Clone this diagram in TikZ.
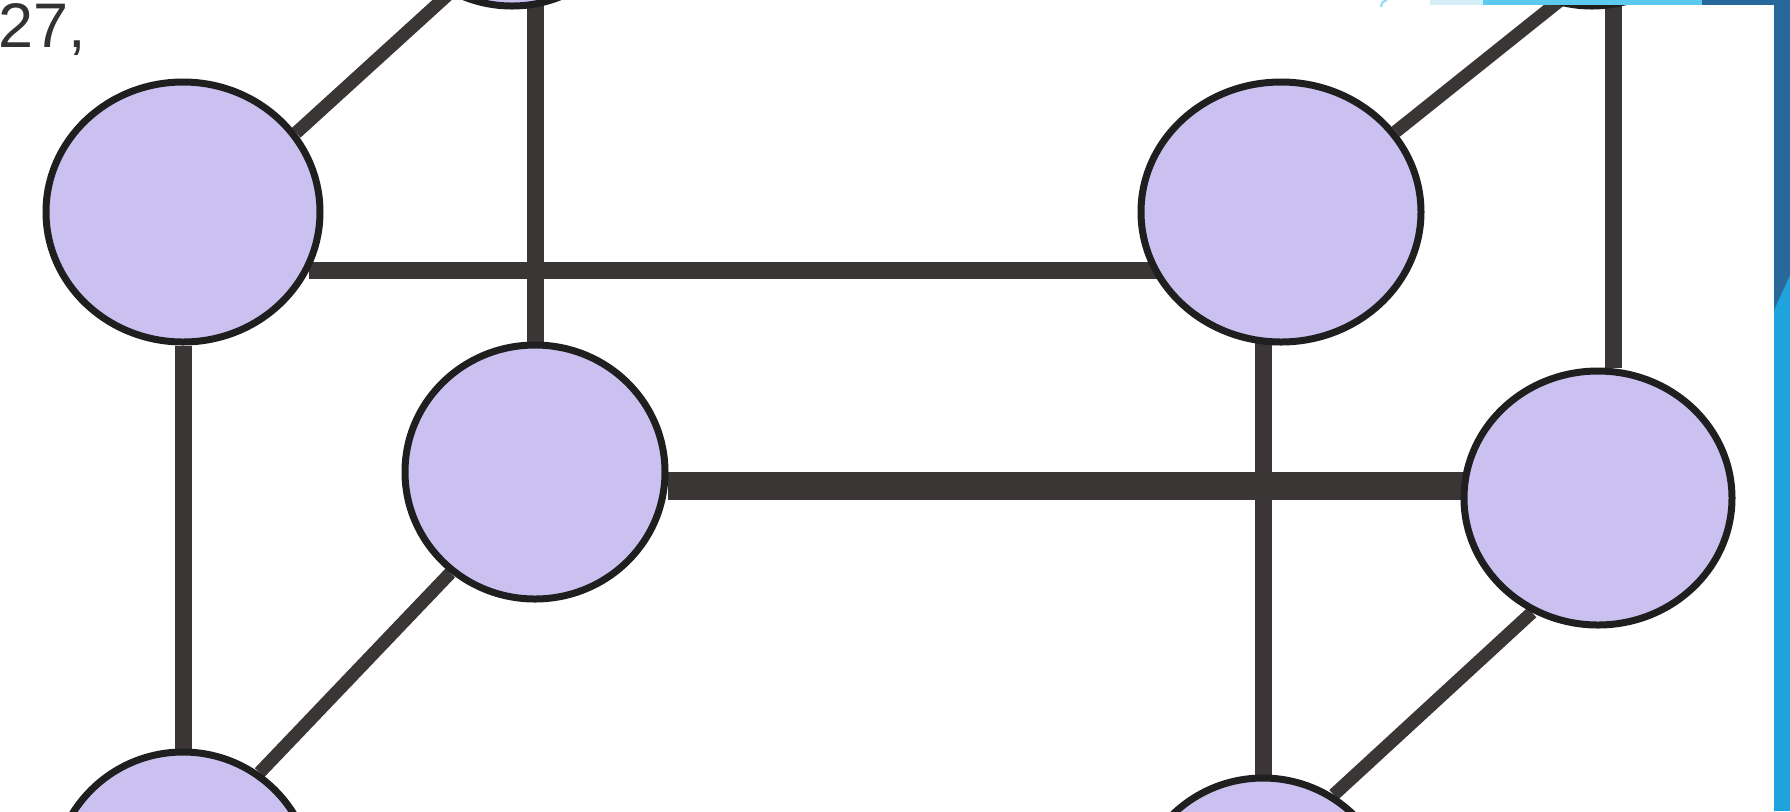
\documentclass[tikz,border=0pt]{standalone}
\usepackage{fontspec}
\setmainfont{Liberation Sans}
\usetikzlibrary{shapes.geometric,backgrounds}
\definecolor{lilac}{RGB}{203,193,240}
\definecolor{bondgray}{RGB}{58,54,54}
\definecolor{textgray}{RGB}{50,50,50}
\definecolor{slidepale}{RGB}{212,238,249}
\definecolor{slidecyan}{RGB}{94,201,238}
\definecolor{slidedark}{RGB}{40,104,154}
\definecolor{slideblue}{RGB}{31,163,220}
\begin{document}
\begin{tikzpicture}[
  x=0.5pt, y=-0.5pt,
  atom/.style={ellipse, draw=black!88, line width=3.5pt, fill=lilac, minimum width=130pt, minimum height=130pt, inner sep=0pt},
  bond/.style={draw=bondgray, line width=8.5pt},
  thinbond/.style={bond, line width=6.5pt},
  thickbond/.style={bond, line width=14pt}
]
\useasboundingbox (0,0) rectangle (1790,811);
\clip (0,0) rectangle (1790,811);
\node[atom, minimum width=137pt] (ul) at (183,212) {};
\node[atom, minimum height=127pt] (ml) at (535,472) {};
\node[atom, minimum width=140pt] (ur) at (1281,212) {};
\node[atom, minimum width=134pt, minimum height=127pt] (mr) at (1598,498) {};
\node[atom] (ll) at (183,882) {};
\node[atom] (lr) at (1263,908) {};
\node[atom] (hl) at (512,-124) {};
\node[atom] (hr) at (1592,-124) {};
\coordinate (exitl) at (475,-30);
\coordinate (exitr) at (1598,-30);
\begin{scope}[on background layer]
  \clip (0,0) rectangle (1790,811);
  \fill[white] (0,0) rectangle (1790,811);
  \draw[bond] (ul) -- (ll);
  \draw[bond] (ul.-25) -- (ul.-25 -| ur);
  \draw[thickbond] (ml.-6) -- (ml.-6 -| mr);
  \draw[bond] (ml.north) -- (ml.north |- hl);
  \draw[bond] (mr.83) -- (mr.83 |- hr);
  \draw[bond] (lr) -- (lr |- ur);
  \draw[thinbond] (ul.35) -- (exitl);
  \draw[thinbond] (ur.35) -- (exitr);
  \draw[thinbond] (ml.230) -- (ll.55);
  \draw[thinbond] (mr.240) -- (lr.58);
\end{scope}
\node[anchor=base west, inner sep=0pt, font=\fontsize{31.5}{38}\selectfont, text=textgray] (num) at (-2,47) {27,};
\fill[slidepale] (1430,0) rectangle (1483,5);
\fill[slidecyan] (1483,0) rectangle (1702,5);
\fill[slidedark] (1702,0) rectangle (1790,5);
\fill[slideblue] (1774,0) rectangle (1790,811);
\fill[slidedark] (1774,0) -- (1790,0) -- (1790,275) -- (1774,310) -- cycle;
\draw[slidecyan!70, line width=1pt] (1381,7) .. controls (1382,2) .. (1387,0);
\end{tikzpicture}
\end{document}
